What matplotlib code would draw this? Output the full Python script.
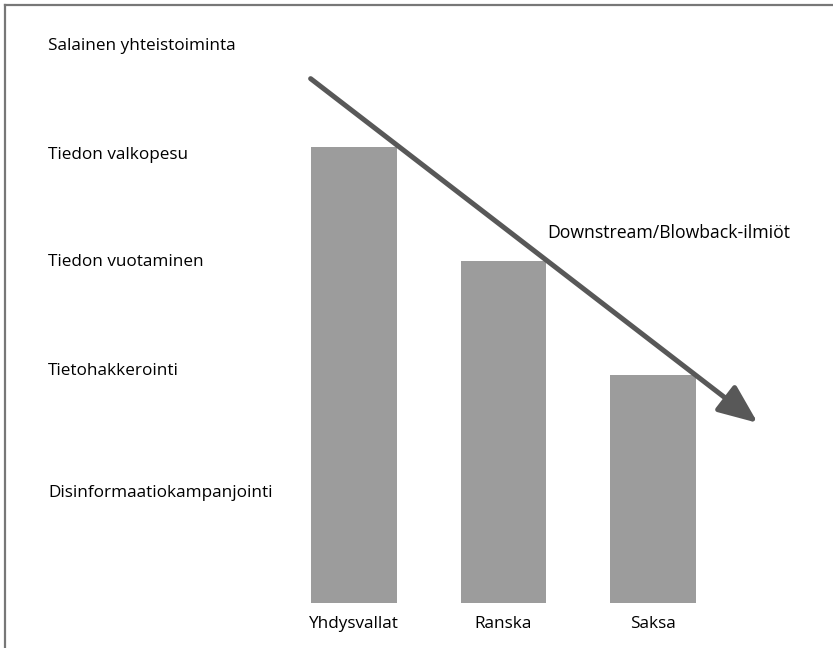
import matplotlib.pyplot as plt
from matplotlib.lines import Line2D
from matplotlib.transforms import blended_transform_factory

plt.rcParams['font.family'] = ['Open Sans', 'DejaVu Sans']

# data
countries = ['Yhdysvallat', 'Ranska', 'Saksa']
levels = [4, 3, 2]
level_labels = ['Disinformaatiokampanjointi', 'Tietohakkerointi',
                'Tiedon vuotaminen', 'Tiedon valkopesu',
                'Salainen yhteistoiminta']
arrow_label = 'Downstream/Blowback-ilmiöt'

# where each level label sits on the level scale
label_pos = [0.965, 2.035, 2.99, 3.93, 4.89]

bar_color = '#9c9c9c'
arrow_color = '#585858'

fig = plt.figure(figsize=(8.33, 6.48), dpi=100)
ax = fig.add_axes([0.3352, 0.0694, 0.6103, 0.8796])

x = list(range(len(countries)))
ax.bar(x, levels, width=0.575, color=bar_color)

ax.set_xlim(-0.5, 2.9)
ax.set_ylim(0, 5)
for s in ax.spines.values():
    s.set_visible(False)
ax.set_yticks([])
ax.set_xticks(x)
ax.set_xticklabels(countries, fontsize=12.3)
ax.tick_params(axis='x', length=0, pad=9)

# level labels on the left edge of the figure
trans = blended_transform_factory(fig.transFigure, ax.transData)
for yp, lab in zip(label_pos, level_labels):
    ax.text(48 / 833, yp, lab, transform=trans, ha='left', va='center',
            fontsize=12.3, clip_on=False)

# trend arrow over the bars
start = (x[0] - 0.29, levels[0] + 0.6)
end = (x[-1] + 0.7, levels[-1] - 0.42)
ax.annotate('', xy=end, xytext=start,
            arrowprops=dict(arrowstyle='-|>,head_length=1.2,head_width=0.5',
                            mutation_scale=20, lw=3.6, color=arrow_color,
                            capstyle='round', shrinkA=0, shrinkB=0))
ax.text(1.29, 3.25, arrow_label, ha='left', va='center', fontsize=12.7)

# frame lines (left and top)
fig.add_artist(Line2D([5 / 833, 5 / 833], [0, 1 - 5 / 648],
                      transform=fig.transFigure, color='#777777', lw=1.6))
fig.add_artist(Line2D([5 / 833, 1], [1 - 5 / 648, 1 - 5 / 648],
                      transform=fig.transFigure, color='#777777', lw=1.6))

fig.savefig('out.png', dpi=100)
